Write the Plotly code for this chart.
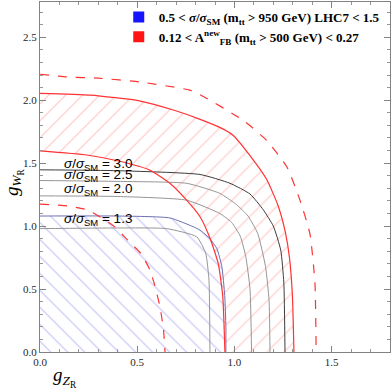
import plotly.graph_objects as go

# curves (g_ZR, g_WR)
red_out_x = [0.0, 0.26, 0.51, 0.69, 0.82, 0.93, 0.994, 1.08, 1.166, 1.225, 1.262, 1.283, 1.298, 1.306]
red_out_y = [2.055, 2.04, 1.995, 1.92, 1.85, 1.78, 1.72, 1.56, 1.37, 1.16, 0.95, 0.75, 0.45, 0.0]

red_in_x = [0.0, 0.24, 0.41, 0.566, 0.668, 0.754, 0.823, 0.874, 0.917, 0.94, 0.951]
red_in_y = [1.598, 1.565, 1.515, 1.444, 1.34, 1.206, 1.074, 0.905, 0.70, 0.44, 0.0]

dash_out_x = [0.0, 0.137, 0.30, 0.514, 0.77, 0.84, 1.045, 1.166, 1.27, 1.337, 1.388, 1.414, 1.42]
dash_out_y = [2.206, 2.185, 2.175, 2.145, 2.08, 2.03, 1.84, 1.68, 1.47, 1.206, 0.94, 0.55, 0.0]

dash_in_x = [0.0, 0.14, 0.24, 0.29, 0.38, 0.45, 0.52, 0.566, 0.59, 0.617, 0.635, 0.643]
dash_in_y = [1.175, 1.16, 1.13, 1.09, 1.0, 0.89, 0.78, 0.65, 0.53, 0.36, 0.18, 0.0]

blue_x = [0.0, 0.4, 0.668, 0.788, 0.823, 0.874, 0.91, 0.935, 0.95, 0.956, 0.956]
blue_y = [1.08, 1.08, 1.065, 0.995, 0.968, 0.90, 0.82, 0.68, 0.45, 0.2, 0.0]

s30_x = [0.0, 0.4, 0.823, 0.977, 1.08, 1.148, 1.2, 1.238, 1.254, 1.26]
s30_y = [1.447, 1.44, 1.41, 1.34, 1.255, 1.13, 1.0, 0.81, 0.55, 0.0]

s25_x = [0.0, 0.4, 0.754, 0.925, 1.011, 1.07, 1.12, 1.16, 1.178, 1.183]
s25_y = [1.362, 1.355, 1.34, 1.26, 1.17, 1.08, 0.94, 0.677, 0.41, 0.0]

s20_x = [0.0, 0.4, 0.754, 0.925, 0.985, 1.03, 1.058, 1.08, 1.088]
s20_y = [1.24, 1.235, 1.206, 1.10, 1.03, 0.92, 0.76, 0.5, 0.0]

s13_x = [0.0, 0.4, 0.651, 0.806, 0.852, 0.869, 0.874]
s13_y = [0.98, 0.985, 0.98, 0.915, 0.785, 0.57, 0.0]

sigma_labels = ['3.0', '2.5', '2.0', '1.3']
label_y = [1.49, 1.405, 1.29, 1.05]

leg_blue = '<b>0.5 &lt; <i>σ</i>/<i>σ</i><sub>SM</sub> (m<sub>tt</sub> &gt; 950 GeV) LHC7 &lt; 1.5</b>'
leg_red = '<b>0.12 &lt; A<sup>new</sup><sub>FB</sub> (m<sub>tt</sub> &gt; 500 GeV) &lt; 0.27</b>'

fig = go.Figure()

# blue hatched region (fill only)
fig.add_trace(go.Scatter(
    x=[0.0] + blue_x + [0.0], y=[0.0] + blue_y + [0.0],
    mode='lines', fill='toself', line=dict(width=0),
    fillcolor='rgba(0,0,0,0)',
    fillpattern=dict(shape='\\', fgcolor='rgb(130,130,235)', bgcolor='rgba(0,0,0,0)', size=12, solidity=0.09),
    showlegend=False, hoverinfo='skip'))

# red hatched band (fill only)
fig.add_trace(go.Scatter(
    x=red_out_x + red_in_x[::-1], y=red_out_y + red_in_y[::-1],
    mode='lines', fill='toself', line=dict(width=0),
    fillcolor='rgba(0,0,0,0)',
    fillpattern=dict(shape='/', fgcolor='rgb(255,140,140)', bgcolor='rgba(0,0,0,0)', size=12, solidity=0.09),
    showlegend=False, hoverinfo='skip'))

spl = dict(shape='spline', smoothing=0.5)

# blue boundary
fig.add_trace(go.Scatter(x=blue_x, y=blue_y, mode='lines',
                         line=dict(color='rgb(110,110,180)', width=1, **spl),
                         showlegend=False, hoverinfo='skip'))

# sigma/sigma_SM contours
for xs, ys, col in [(s13_x, s13_y, 'rgb(150,150,150)'), (s20_x, s20_y, 'rgb(150,150,150)'),
                    (s25_x, s25_y, 'rgb(150,150,150)'), (s30_x, s30_y, 'rgb(60,60,60)')]:
    fig.add_trace(go.Scatter(x=xs, y=ys, mode='lines',
                             line=dict(color=col, width=1, **spl),
                             showlegend=False, hoverinfo='skip'))

# red boundaries
for xs, ys, dash in [(red_out_x, red_out_y, 'solid'), (red_in_x, red_in_y, 'solid'),
                     (dash_out_x, dash_out_y, 'dash'), (dash_in_x, dash_in_y, 'dash')]:
    fig.add_trace(go.Scatter(x=xs, y=ys, mode='lines',
                             line=dict(color='rgb(255,50,50)', width=1.2, dash=dash, **spl),
                             showlegend=False, hoverinfo='skip'))

# legend entries
fig.add_trace(go.Scatter(x=[None], y=[None], mode='markers', name=leg_blue,
                         marker=dict(symbol='square', size=11, color='rgb(20,20,255)')))
fig.add_trace(go.Scatter(x=[None], y=[None], mode='markers', name=leg_red,
                         marker=dict(symbol='square', size=11, color='rgb(255,20,20)')))

for lab, ly in zip(sigma_labels, label_y):
    fig.add_annotation(x=0.115, y=ly, xref='x', yref='y', xanchor='left', yanchor='middle',
                       text='<i>σ</i>/<i>σ</i><sub>SM</sub> = ' + lab, showarrow=False,
                       font=dict(family='Liberation Sans', size=13.5, color='black'))

# axis titles
fig.add_annotation(x=0.03, y=-0.07, xref='paper', yref='paper', xanchor='left', yanchor='middle',
                   text='<i>g</i><sub><i>Z</i><sub>R</sub></sub>', showarrow=False,
                   font=dict(family='Liberation Serif', size=19, color='black'))
fig.add_annotation(x=-0.075, y=0.485, xref='paper', yref='paper', xanchor='center', yanchor='middle',
                   text='<i>g</i><sub><i>W</i><sub>R</sub></sub>', showarrow=False, textangle=-90,
                   font=dict(family='Liberation Serif', size=19, color='black'))

axis_common = dict(
    showgrid=False, zeroline=False, showline=True, linecolor='rgb(130,130,130)', linewidth=1,
    mirror='allticks', ticks='inside', ticklen=6, tickcolor='rgb(130,130,130)', tickwidth=1,
    tickformat='.1f', tickfont=dict(family='Liberation Serif', size=11, color='rgb(40,40,40)'),
    minor=dict(ticks='inside', ticklen=3, tickcolor='rgb(150,150,150)', dtick=0.1),
    dtick=0.5, tick0=0,
)

fig.update_layout(
    width=392, height=391,
    margin=dict(l=40, r=2, t=2, b=39),
    plot_bgcolor='white', paper_bgcolor='white',
    xaxis=dict(range=[0, 1.8], **axis_common),
    yaxis=dict(range=[0, 2.78], **axis_common),
    legend=dict(x=0.225, y=1.0, xanchor='left', yanchor='top', bgcolor='rgba(0,0,0,0)',
                font=dict(family='Liberation Serif', size=13, color='black'),
                itemwidth=30, tracegroupgap=0),
)

fig.write_html("out.html", config={'displayModeBar': False},
               post_script="document.body.style.margin='0';")
